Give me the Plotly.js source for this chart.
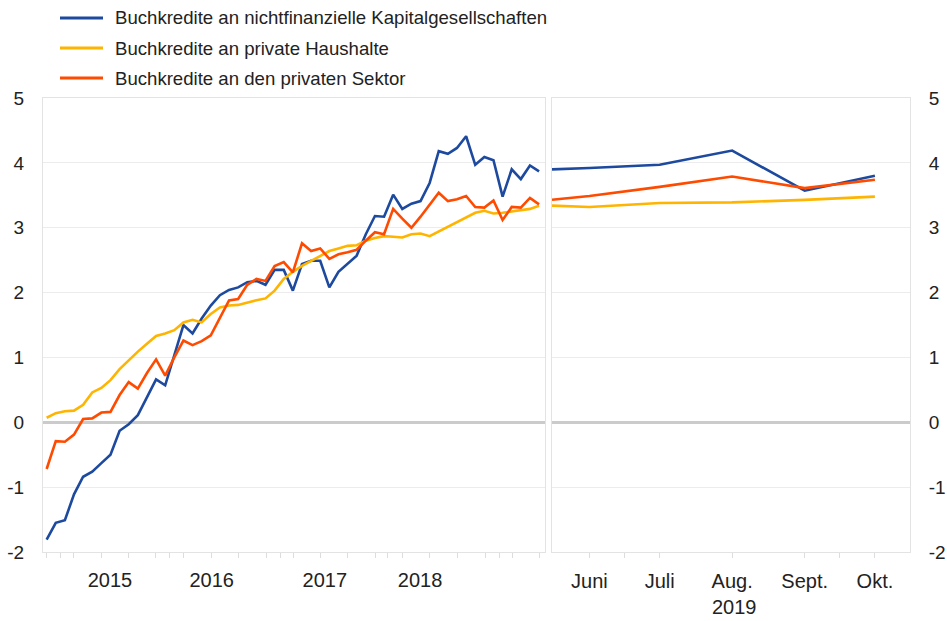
<!DOCTYPE html>
<html><head><meta charset="utf-8">
<script src="https://cdn.plot.ly/plotly-3.0.1.min.js"></script>
<style>html,body{margin:0;padding:0;background:#fff}#chart{width:947px;height:621px}</style>
</head><body><div id="chart"></div>
<script>
const seriesNames = [
  'Buchkredite an nichtfinanzielle Kapitalgesellschaften',
  'Buchkredite an private Haushalte',
  'Buchkredite an den privaten Sektor'
];
const colors = ['#1d4a9e', '#ffb400', '#ff4b00'];

// Left panel: monthly values, Nov 2014 - May 2019
const months = [];
for (let y = 2014, m = 11; months.length < 55;) {
  months.push(y + '-' + String(m).padStart(2, '0'));
  m++; if (m > 12) { m = 1; y++; }
}
const nfcLeft = [-1.81,-1.55,-1.51,-1.11,-0.84,-0.76,-0.63,-0.50,-0.13,-0.03,
  0.11,0.38,0.66,0.57,1.03,1.50,1.37,1.60,1.80,1.96,
  2.04,2.08,2.16,2.18,2.12,2.35,2.35,2.03,2.44,2.49,
  2.49,2.08,2.32,2.44,2.57,2.90,3.18,3.17,3.51,3.29,
  3.37,3.41,3.69,4.18,4.14,4.23,4.41,3.97,4.09,4.04,
  3.48,3.90,3.75,3.96,3.87];
const hhLeft = [0.07,0.14,0.17,0.18,0.27,0.46,0.53,0.65,0.82,0.96,
  1.09,1.21,1.33,1.37,1.42,1.54,1.58,1.54,1.67,1.77,
  1.80,1.81,1.85,1.88,1.91,2.03,2.21,2.32,2.41,2.49,
  2.57,2.64,2.68,2.72,2.73,2.80,2.84,2.87,2.86,2.85,
  2.90,2.91,2.87,2.94,3.01,3.08,3.16,3.23,3.26,3.22,
  3.23,3.25,3.26,3.29,3.34];
const pslLeft = [-0.72,-0.29,-0.30,-0.19,0.05,0.06,0.15,0.16,0.42,0.62,
  0.52,0.76,0.97,0.72,1.00,1.26,1.19,1.25,1.34,1.60,
  1.88,1.90,2.12,2.21,2.18,2.41,2.47,2.31,2.76,2.64,
  2.68,2.52,2.59,2.62,2.66,2.80,2.93,2.90,3.29,3.14,
  3.00,3.17,3.36,3.54,3.41,3.44,3.49,3.32,3.31,3.42,
  3.12,3.32,3.31,3.46,3.36];
const yearLabels = ['2015', '2016', '2017', '2018'];
const yearLabelPos = [6.94, 18.1, 30.5, 40.95];
const leftTickPos = [0,1.54,2.99,6,8.95,11.99,13.45,15.06,18.1,21,24.1,25.6,27.05,29.98,33,36.1,37.4,39,42,45,48.1,49.7,51.1,54];

// Right panel: latest months of 2019
const rightDates = ['2019-05-16','2019-06-01','2019-07-01','2019-08-01','2019-09-01','2019-10-01'];
const nfcRight = [3.90, 3.92, 3.97, 4.19, 3.57, 3.80];
const hhRight  = [3.34, 3.32, 3.38, 3.39, 3.43, 3.48];
const pslRight = [3.43, 3.49, 3.63, 3.79, 3.61, 3.74];
const monthTickDates = ['2019-06-01','2019-07-01','2019-08-01','2019-09-01','2019-10-01'];
const monthTickLabels = ['Juni', 'Juli', 'Aug.', 'Sept.', 'Okt.'];
const rightMinorTicks = ['2019-06-01','2019-06-16','2019-07-01','2019-08-01','2019-09-01','2019-09-16','2019-10-01'];
const yTicks = [-2, -1, 0, 1, 2, 3, 4, 5];
const yTickLabels = ['-2', '-1', '0', '1', '2', '3', '4', '5'];

const leftX = months.map((_, i) => i);
const leftSeries = [nfcLeft, hhLeft, pslLeft];
const rightSeries = [nfcRight, hhRight, pslRight];

const traces = [];
leftSeries.forEach((s, k) => traces.push({
  type: 'scatter', mode: 'lines', x: leftX, y: s, text: months,
  name: seriesNames[k], xaxis: 'x', yaxis: 'y',
  line: {color: colors[k], width: 2.6}, showlegend: false, hoverinfo: 'text+y'
}));
rightSeries.forEach((s, k) => traces.push({
  type: 'scatter', mode: 'lines', x: rightDates, y: s,
  name: seriesNames[k], xaxis: 'x2', yaxis: 'y2',
  line: {color: colors[k], width: 2.6}, showlegend: false
}));

const W = 947, H = 621, L = 43, R = 37, T = 98, B = 69;
const pw = W - L - R, ph = H - T - B;
const px = v => (v - L) / pw;
const py = v => (H - B - v) / ph;

const shapes = [], annotations = [];
const legendRows = [18, 48, 78];
seriesNames.forEach((n, k) => {
  shapes.push({type: 'line', xref: 'paper', yref: 'paper',
    x0: px(60), x1: px(103), y0: py(legendRows[k]), y1: py(legendRows[k]),
    line: {color: colors[k], width: 3}});
  annotations.push({xref: 'paper', yref: 'paper', x: px(113), y: py(legendRows[k]),
    xanchor: 'left', yanchor: 'middle', showarrow: false, text: n,
    font: {size: 18.6, color: '#222'}});
});
annotations.push({xref: 'x2', yref: 'paper', x: '2019-08-02', y: py(607),
  xanchor: 'center', yanchor: 'middle', showarrow: false, text: '2019',
  font: {size: 20, color: '#222'}});

const common = {showgrid: true, gridcolor: '#ececec', gridwidth: 1,
  showline: true, mirror: true, linecolor: '#e3e3e3', linewidth: 1, fixedrange: true};

const layout = {
  width: W, height: H, margin: {l: L, r: R, t: T, b: B},
  paper_bgcolor: '#fff', plot_bgcolor: '#fff', showlegend: false,
  font: {family: '"Liberation Sans", Arial, sans-serif', color: '#222', size: 20},
  xaxis: Object.assign({}, common, {domain: [0, px(545)], range: [-0.4, 54.65],
    tickmode: 'array', tickvals: yearLabelPos, ticktext: yearLabels, ticks: '',
    showgrid: false, zeroline: false, ticklabelstandoff: 10, tickfont: {size: 20},
    minor: {tickmode: 'array', tickvals: leftTickPos, ticks: 'outside', ticklen: 5,
      tickcolor: '#dddddd', tickwidth: 1, showgrid: false}}),
  xaxis2: Object.assign({}, common, {domain: [px(552), 1], type: 'date',
    range: ['2019-05-16', '2019-10-16'], anchor: 'y2',
    tickmode: 'array', tickvals: monthTickDates, ticktext: monthTickLabels, ticks: '',
    showgrid: false, zeroline: false, ticklabelstandoff: 11, tickfont: {size: 20},
    minor: {tickmode: 'array', tickvals: rightMinorTicks, ticks: 'outside', ticklen: 5,
      tickcolor: '#dddddd', tickwidth: 1, showgrid: false}}),
  yaxis: Object.assign({}, common, {anchor: 'x', range: [-2, 5], tickmode: 'array',
    tickvals: yTicks, ticktext: yTickLabels, ticks: '', zeroline: true,
    zerolinecolor: '#cbcbcb', zerolinewidth: 3, ticklabelstandoff: 14, tickfont: {size: 19}}),
  yaxis2: Object.assign({}, common, {anchor: 'x2', side: 'right', range: [-2, 5],
    tickmode: 'array', tickvals: yTicks, ticktext: yTickLabels, ticks: '', zeroline: true,
    zerolinecolor: '#cbcbcb', zerolinewidth: 3, ticklabelstandoff: 14, tickfont: {size: 19}}),
  shapes: shapes, annotations: annotations
};

Plotly.newPlot('chart', traces, layout, {staticPlot: true, displayModeBar: false});
</script></body></html>
